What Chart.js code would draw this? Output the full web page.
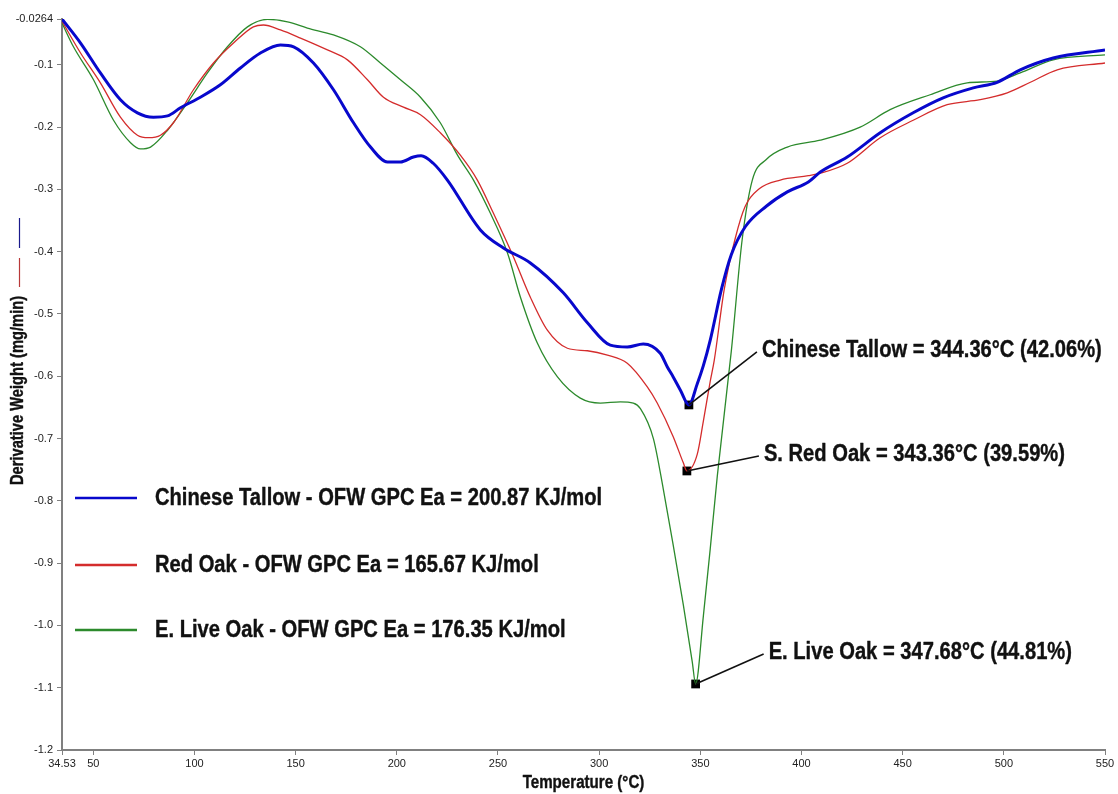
<!DOCTYPE html>
<html>
<head>
<meta charset="utf-8">
<title>DTG curves</title>
<script src="https://cdn.jsdelivr.net/npm/chart.js@4.4.1/dist/chart.umd.min.js"></script>
<style>
  html, body { margin: 0; padding: 0; background: #fff; }
  #wrap { width: 1118px; height: 794px; position: relative; }
</style>
</head>
<body>
<div id="wrap"><canvas id="dtg"></canvas></div>
<script>
// Derivative weight curves (mg/min) against temperature (°C)
const tallowTemp = [34.53, 43.7, 53.5, 63.4, 71.8, 79.7, 86.7, 93.1, 102.9, 112.8, 122.7, 132.6, 142.5, 149.0, 158.8, 168.7, 178.6, 187.0, 195.4, 201.8, 208.2, 212.0, 218.0, 225.0, 241.3, 252.7, 266.0, 282.3, 294.2, 305.5, 313.9, 321.8, 330.2, 333.7, 336.6, 340.1, 344.36, 348.5, 351.5, 354.9, 360.4, 365.3, 372.2, 382.6, 393.0, 403.4, 409.3, 422.6, 438.9, 455.2, 470.0, 484.9, 496.7, 508.1, 524.4, 550];
const tallowDeriv = [-0.0264, -0.065, -0.113, -0.156, -0.177, -0.184, -0.182, -0.169, -0.152, -0.132, -0.105, -0.081, -0.068, -0.071, -0.097, -0.140, -0.193, -0.232, -0.256, -0.256, -0.248, -0.246, -0.258, -0.285, -0.365, -0.394, -0.418, -0.466, -0.514, -0.550, -0.553, -0.548, -0.563, -0.585, -0.601, -0.622, -0.646, -0.612, -0.583, -0.542, -0.461, -0.405, -0.360, -0.327, -0.304, -0.288, -0.272, -0.248, -0.209, -0.177, -0.153, -0.137, -0.128, -0.108, -0.089, -0.076];

const redOakTemp = [34.53, 43.7, 53.5, 63.4, 71.8, 77.3, 83.2, 89.6, 99.5, 109.4, 119.3, 129.1, 134.1, 142.5, 152.4, 165.7, 175.6, 185.5, 193.4, 203.3, 211.7, 221.5, 231.4, 239.8, 247.7, 257.6, 266.0, 274.4, 284.3, 294.2, 304.1, 313.9, 323.8, 328.7, 336.6, 341.6, 343.36, 348.5, 351.5, 354.9, 356.9, 361.8, 367.3, 372.2, 379.1, 389.5, 403.4, 409.3, 422.6, 438.9, 455.2, 472.0, 488.3, 501.7, 513.1, 526.4, 550];
const redOakDeriv = [-0.030, -0.081, -0.129, -0.184, -0.213, -0.217, -0.213, -0.193, -0.140, -0.097, -0.065, -0.039, -0.036, -0.044, -0.057, -0.076, -0.092, -0.124, -0.152, -0.168, -0.180, -0.209, -0.245, -0.285, -0.338, -0.408, -0.473, -0.526, -0.555, -0.559, -0.566, -0.579, -0.617, -0.643, -0.697, -0.739, -0.752, -0.725, -0.672, -0.608, -0.574, -0.461, -0.378, -0.327, -0.299, -0.285, -0.278, -0.274, -0.258, -0.217, -0.189, -0.164, -0.156, -0.145, -0.128, -0.108, -0.097];

const liveOakTemp = [34.53, 40.2, 50.1, 60.0, 68.4, 73.3, 78.3, 86.7, 96.5, 106.4, 116.3, 126.2, 136.1, 146.0, 155.8, 168.7, 182.0, 191.9, 201.8, 211.7, 221.5, 230.0, 237.9, 246.2, 254.7, 261.1, 269.5, 279.4, 290.7, 300.6, 310.5, 316.9, 320.4, 326.8, 331.7, 336.6, 341.6, 346.0, 347.68, 351.5, 354.9, 358.4, 365.3, 370.7, 375.7, 382.6, 393.0, 409.3, 429.0, 443.8, 463.6, 481.9, 496.7, 508.1, 524.4, 550];
const liveOakDeriv = [-0.033, -0.071, -0.124, -0.189, -0.225, -0.235, -0.232, -0.205, -0.161, -0.113, -0.071, -0.039, -0.027, -0.031, -0.041, -0.052, -0.071, -0.097, -0.124, -0.152, -0.193, -0.245, -0.285, -0.338, -0.402, -0.473, -0.547, -0.601, -0.635, -0.643, -0.641, -0.643, -0.652, -0.700, -0.781, -0.871, -0.967, -1.058, -1.094, -0.985, -0.877, -0.760, -0.560, -0.380, -0.285, -0.252, -0.232, -0.221, -0.200, -0.172, -0.148, -0.129, -0.126, -0.113, -0.092, -0.084];

// Legend entries and colours
const seriesNames = [
  'Chinese Tallow - OFW GPC Ea = 200.87 KJ/mol',
  'Red Oak - OFW GPC Ea = 165.67 KJ/mol',
  'E. Live Oak - OFW GPC Ea = 176.35 KJ/mol'
];
const seriesColors = ['#0808cc', '#d42c2c', '#2c8a2c'];
const seriesWidths = [3, 1.3, 1.3];

// Peak (maximum mass-loss rate) callouts
const peakNames = ['Chinese Tallow', 'S. Red Oak', 'E. Live Oak'];
const peakTemps = [344.36, 343.36, 347.68];
const peakDeriv = [-0.646, -0.752, -1.094];
const peakLoss = [42.06, 39.59, 44.81];

// Axis ticks and titles
const xTicks = [34.53, 50, 100, 150, 200, 250, 300, 350, 400, 450, 500, 550];
const yTicks = [-1.2, -1.1, -1.0, -0.9, -0.8, -0.7, -0.6, -0.5, -0.4, -0.3, -0.2, -0.1, -0.0264];
const xTitle = 'Temperature (°C)';
const yTitle = 'Derivative Weight (mg/min)';

const boldFamily = '"Liberation Sans", Arial, sans-serif';
const plainFont = '"Liberation Sans", Arial, sans-serif';
const NARROW = 0.84; // horizontal squeeze giving a narrow bold face

// Legend rows and callout text offsets (pixels)
const legendRows = [479, 546, 611];
const calloutOffsets = [[73, -55], [77, -17], [73, -32]];

const toPoints = (xs, ys) => xs.map((t, i) => ({ x: t, y: ys[i] }));

const curves = [
  [tallowTemp, tallowDeriv],
  [redOakTemp, redOakDeriv],
  [liveOakTemp, liveOakDeriv]
].map(([xs, ys], i) => ({
  type: 'line',
  label: seriesNames[i],
  data: toPoints(xs, ys),
  borderColor: seriesColors[i],
  borderWidth: seriesWidths[i],
  pointRadius: 0,
  fill: false,
  cubicInterpolationMode: 'monotone'
}));

const peakMarkers = {
  type: 'scatter',
  label: 'peaks',
  data: toPoints(peakTemps, peakDeriv),
  pointStyle: 'rect',
  pointRadius: 6.2,
  backgroundColor: '#000',
  borderColor: '#000',
  borderWidth: 0
};

function narrowText(ctx, text, x, y, size, align, rotation) {
  ctx.save();
  ctx.translate(x, y);
  if (rotation) ctx.rotate(rotation);
  ctx.scale(NARROW, 1);
  ctx.font = `bold ${size}px ${boldFamily}`;
  ctx.textAlign = align;
  ctx.textBaseline = 'middle';
  ctx.fillStyle = '#111';
  ctx.strokeStyle = '#111';
  ctx.lineWidth = 0.4;
  ctx.lineJoin = 'round';
  ctx.fillText(text, 0, 0);
  ctx.strokeText(text, 0, 0);
  ctx.restore();
}

const overlay = {
  id: 'overlay',
  afterDatasetsDraw(chart) {
    const { ctx, chartArea: a, scales: { x, y } } = chart;
    ctx.save();

    // legend
    seriesNames.forEach((name, i) => {
      const yy = a.top + legendRows[i];
      ctx.strokeStyle = seriesColors[i];
      ctx.lineWidth = 2.5;
      ctx.beginPath();
      ctx.moveTo(a.left + 13, yy);
      ctx.lineTo(a.left + 75, yy);
      ctx.stroke();
      narrowText(ctx, name, a.left + 93, yy, 24, 'left');
    });

    // peak callouts
    peakTemps.forEach((t, i) => {
      const px = x.getPixelForValue(t);
      const py = y.getPixelForValue(peakDeriv[i]);
      const [dx, dy] = calloutOffsets[i];
      ctx.strokeStyle = '#111';
      ctx.lineWidth = 1.6;
      ctx.beginPath();
      ctx.moveTo(px, py);
      ctx.lineTo(px + dx - 5, py + dy + 2);
      ctx.stroke();
      narrowText(ctx, `${peakNames[i]} = ${t.toFixed(2)}°C (${peakLoss[i].toFixed(2)}%)`, px + dx, py + dy, 24, 'left');
    });

    // axis titles
    narrowText(ctx, xTitle, (a.left + a.right) / 2, chart.height - 11, 18, 'center');
    narrowText(ctx, yTitle, 18, (a.top + a.bottom) / 2 + 6, 17.5, 'center', -Math.PI / 2);

    // short series keys beside the y-axis title
    ctx.lineWidth = 1.2;
    ctx.strokeStyle = '#1a1a8c';
    ctx.beginPath(); ctx.moveTo(19.5, a.top + 199); ctx.lineTo(19.5, a.top + 229); ctx.stroke();
    ctx.strokeStyle = '#b83838';
    ctx.beginPath(); ctx.moveTo(19.5, a.top + 239); ctx.lineTo(19.5, a.top + 268); ctx.stroke();
    ctx.restore();
  }
};

new Chart(document.getElementById('dtg'), {
  data: { datasets: [...curves, peakMarkers] },
  options: {
    responsive: true,
    maintainAspectRatio: false,
    animation: false,
    events: [],
    layout: { padding: { top: 19, right: 13, bottom: 0, left: 0 } },
    plugins: { legend: { display: false }, tooltip: { enabled: false } },
    scales: {
      x: {
        type: 'linear',
        min: 34.53,
        max: 550,
        afterBuildTicks: (s) => { s.ticks = xTicks.map(v => ({ value: v })); },
        afterFit: (s) => { s.height = 44; },
        grid: { drawOnChartArea: false, drawTicks: true, tickLength: 5, tickColor: '#808080', color: '#808080' },
        border: { display: true, color: '#808080', width: 2 },
        ticks: {
          autoSkip: false, maxRotation: 0, padding: 2, color: '#222',
          font: { family: plainFont, size: 11 },
          callback: (v) => (v === 34.53 ? '34.53' : String(v))
        }
      },
      y: {
        type: 'linear',
        min: -1.2,
        max: -0.0264,
        afterBuildTicks: (s) => { s.ticks = yTicks.map(v => ({ value: v })); },
        afterFit: (s) => { s.width = 62; },
        grid: { drawOnChartArea: false, drawTicks: true, tickLength: 5, tickColor: '#808080', color: '#808080' },
        border: { display: true, color: '#808080', width: 2 },
        ticks: {
          autoSkip: false, padding: 4, color: '#222',
          font: { family: plainFont, size: 11 },
          callback: (v) => (v === -0.0264 ? '-0.0264' : v.toFixed(1))
        }
      }
    }
  },
  plugins: [overlay]
});
</script>
</body>
</html>
